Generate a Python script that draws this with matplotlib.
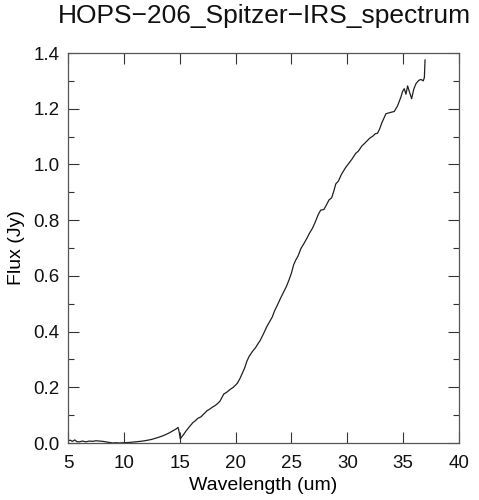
import matplotlib
matplotlib.use("Agg")
import matplotlib.pyplot as plt
from matplotlib.ticker import MultipleLocator

# spectrum points (wavelength in um, flux in Jy)
wavelength = [5.0, 5.2, 5.4, 5.6, 5.8, 6.0, 6.3, 6.6, 6.9, 7.2, 7.5, 7.8, 8.1,
              8.4, 8.7, 9.0, 9.3, 9.6, 10.0, 10.5, 11.0, 11.5, 12.0, 12.5,
              13.0, 13.5, 14.0, 14.4, 14.7, 14.85, 14.95, 15.05, 15.3, 15.6,
              15.9, 16.2, 16.4, 16.6, 16.9, 17.2, 17.45, 17.7, 17.9, 18.15,
              18.35, 18.6, 18.8, 18.95, 19.2, 19.5, 19.8, 20.0, 20.15, 20.4,
              20.6, 20.8, 21.0, 21.2, 21.5, 21.8, 22.0, 22.2, 22.5, 22.8, 23.0,
              23.28, 23.5, 23.8, 24.03, 24.3, 24.55, 24.78, 25.0, 25.2, 25.38,
              25.6, 25.85, 26.12, 26.4, 26.6, 26.87, 27.1, 27.4, 27.62, 27.9,
              28.1, 28.37, 28.6, 28.8, 28.97, 29.2, 29.5, 29.87, 30.1, 30.4,
              30.76, 31.0, 31.3, 31.66, 32.0, 32.3, 32.5, 32.71, 32.9, 33.1,
              33.46, 33.8, 34.2, 34.5, 34.8, 34.95, 35.1, 35.25, 35.4, 35.55,
              35.76, 35.95, 36.15, 36.4, 36.6, 36.8, 36.9, 36.96]
flux = [0.008, 0.010, 0.006, 0.011, 0.005, 0.004, 0.007, 0.004, 0.007, 0.006,
        0.008, 0.007, 0.006, 0.004, 0.002, 0.000, 0.001, 0.000, 0.001, 0.002,
        0.004, 0.006, 0.009, 0.013, 0.019, 0.026, 0.035, 0.044, 0.051, 0.056,
        0.040, 0.015, 0.028, 0.045, 0.060, 0.074, 0.080, 0.088, 0.094, 0.106,
        0.116, 0.122, 0.128, 0.134, 0.140, 0.150, 0.165, 0.176, 0.182, 0.192,
        0.200, 0.208, 0.214, 0.232, 0.250, 0.268, 0.292, 0.310, 0.328, 0.343,
        0.356, 0.368, 0.392, 0.418, 0.432, 0.452, 0.475, 0.500, 0.520, 0.542,
        0.562, 0.585, 0.610, 0.640, 0.656, 0.672, 0.698, 0.716, 0.736, 0.752,
        0.770, 0.790, 0.820, 0.836, 0.838, 0.852, 0.873, 0.880, 0.905, 0.930,
        0.940, 0.966, 0.990, 1.002, 1.018, 1.040, 1.048, 1.066, 1.080, 1.094,
        1.102, 1.110, 1.112, 1.128, 1.150, 1.182, 1.186, 1.190, 1.210, 1.242,
        1.262, 1.272, 1.252, 1.282, 1.262, 1.236, 1.270, 1.290, 1.302, 1.305,
        1.300, 1.312, 1.375]

title = "HOPS\u2212206_Spitzer\u2212IRS_spectrum"
xlabel = "Wavelength (um)"
ylabel = "Flux (Jy)"

plt.rcParams['font.family'] = ['Liberation Sans', 'DejaVu Sans']

fig = plt.figure(figsize=(4.79, 5.0), dpi=100)
ax = fig.add_axes([68 / 479, 57 / 500, 391 / 479, 390 / 500])

ax.plot(wavelength, flux, color='#202020', linewidth=0.9)

ax.set_xlim(5, 40)
ax.set_ylim(0, 1.4)
ax.xaxis.set_major_locator(MultipleLocator(5))
ax.yaxis.set_major_locator(MultipleLocator(0.2))
ax.yaxis.set_minor_locator(MultipleLocator(0.1))
ax.yaxis.set_major_formatter(plt.FuncFormatter(lambda v, p: f"{v:.1f}"))

ax.tick_params(which='both', direction='in', top=True, right=True,
               labelsize=13.5, colors='#333333', labelcolor='#111111', width=0.8)
ax.tick_params(which='major', length=8)
ax.tick_params(which='minor', length=4)
ax.tick_params(axis='x', pad=9)
ax.tick_params(axis='y', pad=6)
for s in ax.spines.values():
    s.set_color('#555555')
    s.set_linewidth(0.9)

ax.set_xlabel(xlabel, fontsize=14, labelpad=3)
ax.set_ylabel(ylabel, fontsize=14, labelpad=6)
fig.text(264 / 479, 1 - 23 / 500, title, fontsize=19, ha='center',
         va='baseline', color='#111111')

fig.savefig("out.png", dpi=100)
